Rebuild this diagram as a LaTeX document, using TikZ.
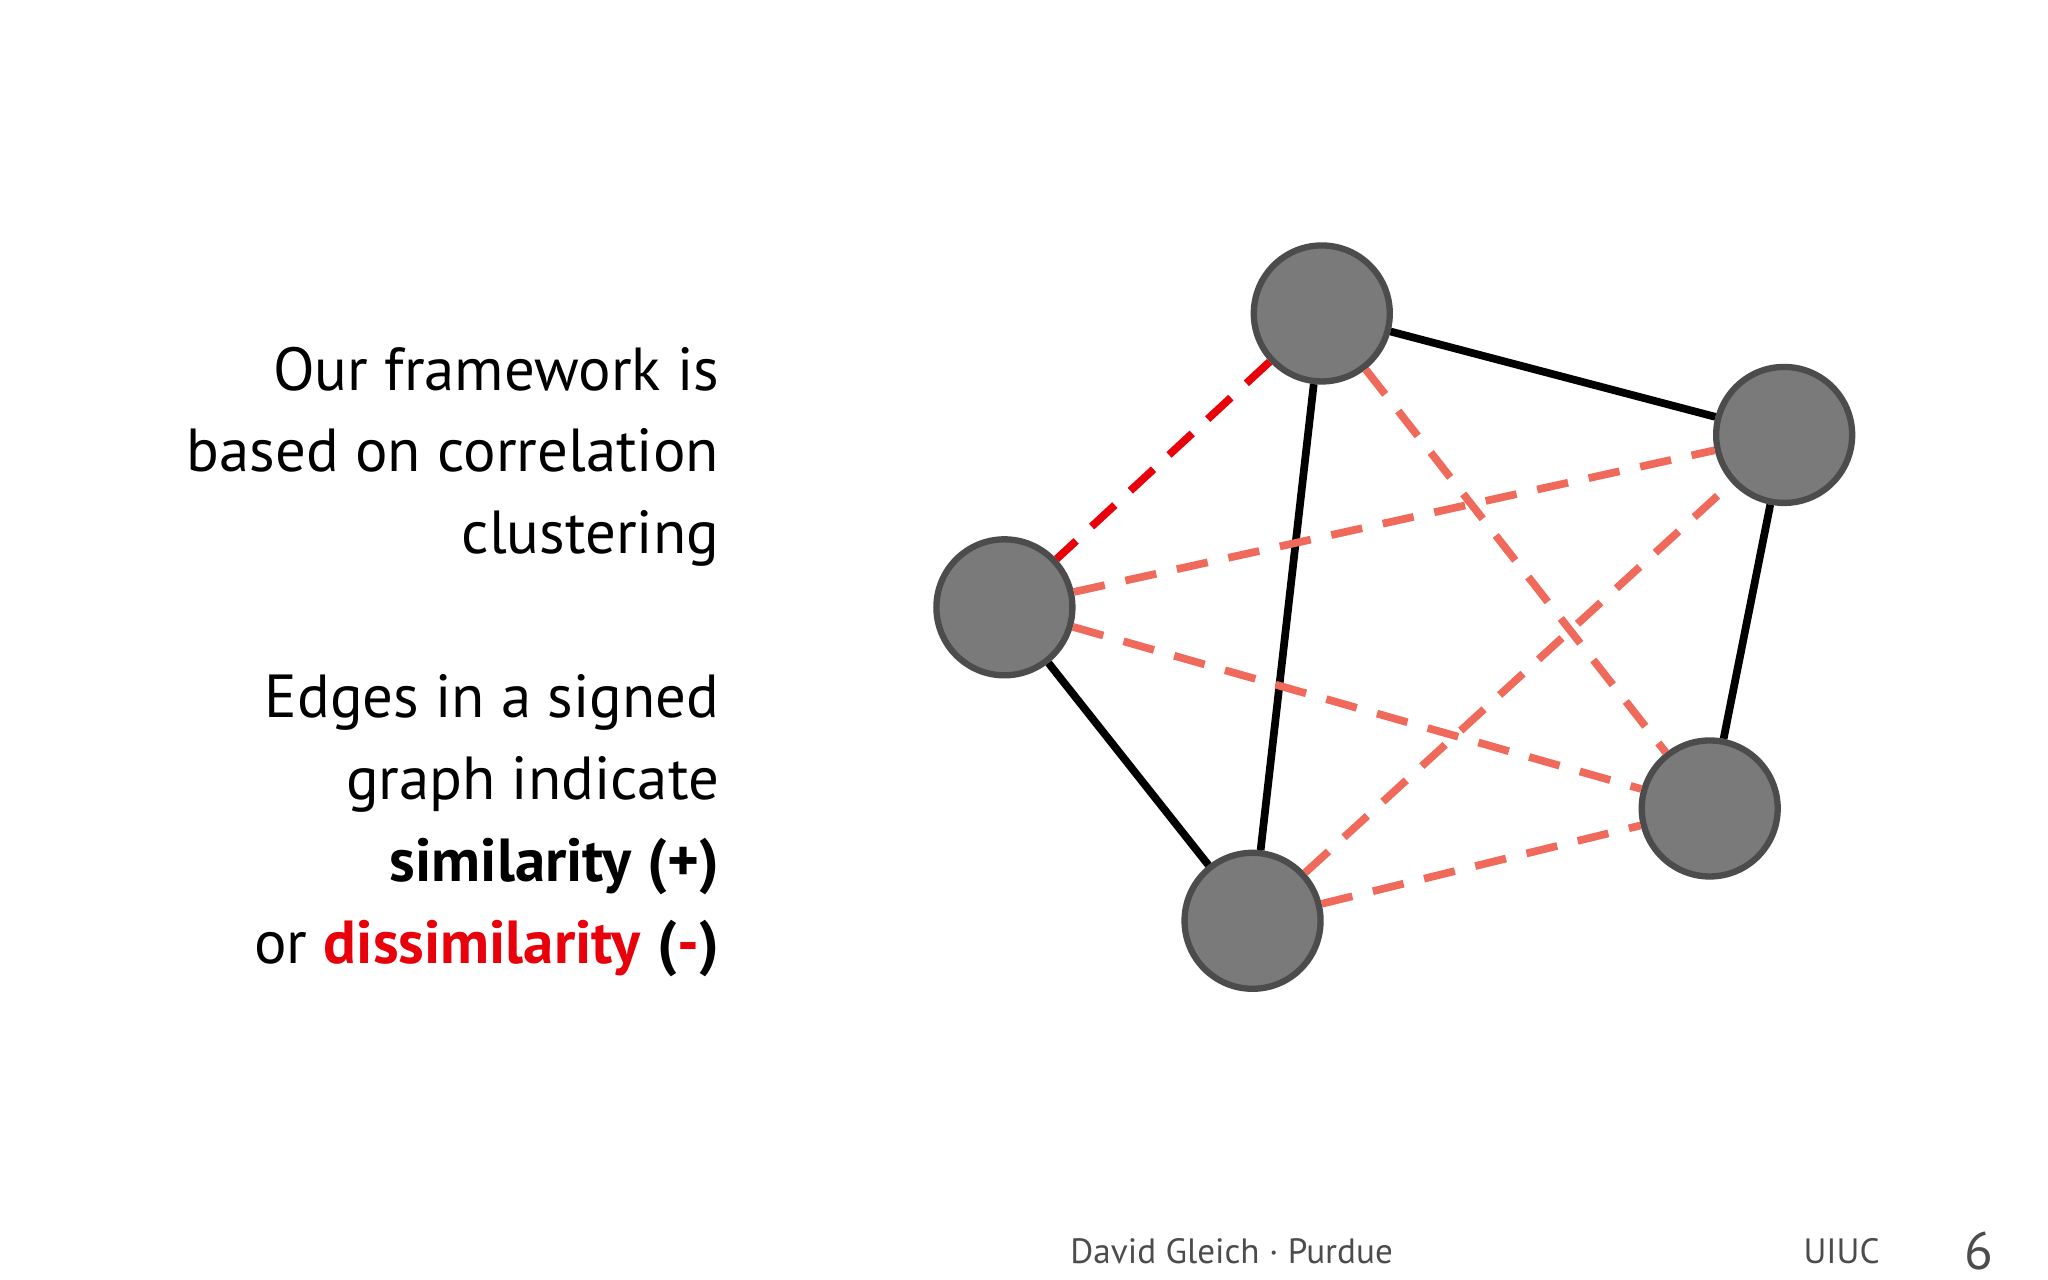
\documentclass[tikz,border=0pt]{standalone}
\usepackage{fontspec}
\setmainfont{PT Sans}
\definecolor{salmon}{HTML}{F06A5C}
\definecolor{signred}{HTML}{E8000B}
\tikzset{
  vertex/.style={circle, draw=black!70, fill=black!52, line width=1.8pt, minimum size=1.36cm, inner sep=0pt},
  posedge/.style={line width=2.2pt, black},
  negedge/.style={line width=2.2pt, salmon, dash pattern=on 9pt off 6pt},
  strongneg/.style={line width=2.2pt, signred, dash pattern=on 9pt off 6pt},
}
\begin{document}
\begin{tikzpicture}[x=0.01306cm, y=-0.01306cm]
        \useasboundingbox (0,0) rectangle (1568,980);

        % vertices of the signed graph
        \node[vertex] (a) at (1012,240) {};
        \node[vertex] (b) at (1366,333) {};
        \node[vertex] (c) at (769,465) {};
        \node[vertex] (d) at (1309,619) {};
        \node[vertex] (e) at (959,705) {};

        % edges
        \draw[posedge] (a) -- (b);
        \draw[posedge] (a) -- (e);
        \draw[posedge] (c) -- (e);
        \draw[posedge] (b) -- (d);
        \draw[strongneg] (a) -- (c);
        \draw[negedge] (a) -- (d);
        \draw[negedge] (c) -- (b);
        \draw[negedge] (c) -- (d);
        \draw[negedge] (e) -- (b);
        \draw[negedge] (e) -- (d);

        % text on the left
        \node[anchor=north east, align=right, font=\fontsize{17.3pt}{23.3pt}\selectfont, inner sep=0pt] (txt) at (551,265)
          {Our framework is\\based on correlation\\clustering\\[23.3pt]
           Edges in a signed\\graph indicate\\\textbf{similarity (+)}\\or \textcolor{signred}{\textbf{dissimilarity}} \textbf{(\textcolor{signred}{-})}};

        % footer
        \node[font=\fontsize{10pt}{12pt}\selectfont, text=black!70] (foot) at (943,958) {David Gleich · Purdue};
        \node[font=\fontsize{10pt}{12pt}\selectfont, text=black!70] (uni) at (1410,958) {UIUC};
        \node[font=\fontsize{15pt}{17pt}\selectfont, text=black!70] (page) at (1515,958) {6};
\end{tikzpicture}
\end{document}
